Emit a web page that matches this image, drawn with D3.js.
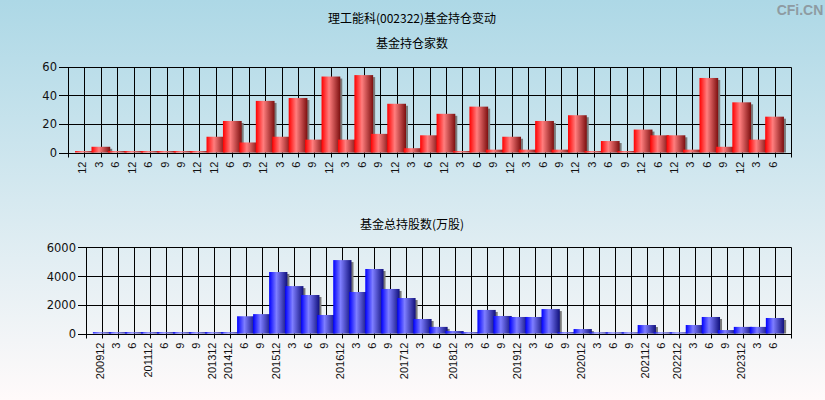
<!DOCTYPE html>
<html><head><meta charset="utf-8">
<script src="https://cdn.jsdelivr.net/npm/d3@7"></script>
<style>
html,body{margin:0;padding:0;}
body{width:825px;height:400px;overflow:hidden;}
</style>
</head><body>
<svg id="c" width="825" height="400"></svg>
<script>
// ---- data ----
const periods = ["200912","3","6","201112","6","9","9","201312","201412","6","9","201512","3","6","9","201612","3","6","9","201712","3","6","201812","3","6","9","201912","3","6","9","202012","3","6","9","202112","6","202212","3","6","9","202312","3","6"];
const fundCounts = [1,4,1,1,1,1,1,1,11,22,7,36,11,38,9,53,9,54,13,34,3,12,27,1,32,2,11,2,22,2,26,1,8,1,16,12,12,2,52,4,35,9,25];
const totalShares = [90,90,90,90,90,90,90,90,90,1200,1350,4280,3300,2680,1290,5110,2890,4490,3100,2470,1010,460,170,90,1640,1220,1150,1150,1700,90,310,80,80,80,590,80,80,590,1150,240,460,460,1080];
const topTicks = [0,20,40,60];
const bottomTicks = [0,2000,4000,6000];
const mainTitle = "理工能科(002322)基金持仓变动";
const topTitle = "基金持仓家数";
const bottomTitle = "基金总持股数(万股)";

const svg = d3.select("#c");
const defs = svg.append("defs");
const bg = defs.append("linearGradient").attr("id","bg").attr("x1",0).attr("y1",0).attr("x2",0).attr("y2",1);
bg.append("stop").attr("offset","0%").attr("stop-color","#add8e6");
bg.append("stop").attr("offset","100%").attr("stop-color","#fffafa");
function barGrad(id, c0, c1, c2){
  const g = defs.append("linearGradient").attr("id",id).attr("x1",0).attr("y1",0).attr("x2",1).attr("y2",0);
  g.append("stop").attr("offset","0%").attr("stop-color",c0);
  g.append("stop").attr("offset","40%").attr("stop-color",c1);
  g.append("stop").attr("offset","100%").attr("stop-color",c2);
}
barGrad("red","#ff0000","#ff7e7e","#7c0f0f");
barGrad("blue","#0000ff","#7e7eff","#10107c");

svg.append("rect").attr("width",825).attr("height",400).attr("fill","url(#bg)");

svg.append("text").attr("x",412).attr("y",23).attr("text-anchor","middle")
  .attr("font-family","'Noto Sans CJK SC',sans-serif").attr("font-size",12).attr("fill","#000").text(mainTitle);
svg.append("text").attr("x",800).attr("y",15).attr("text-anchor","middle")
  .attr("font-family","'Liberation Sans',Arial,sans-serif").attr("font-weight","bold").attr("font-size",14).attr("fill","#8e9ba2").text("CFi.CN");

function panel(opt){
  const n = opt.values.length;
  const x = d3.scaleLinear().domain([0,n+1]).range([opt.left,opt.right]);
  const y = d3.scaleLinear().domain([0,opt.max]).range([opt.bottom,opt.top]);
  const g = svg.append("g");
  const px = v => Math.round(v)+0.5;
  g.append("text").attr("x",412).attr("y",opt.titleY).attr("text-anchor","middle")
    .attr("font-family","'Noto Sans CJK SC',sans-serif").attr("font-size",12).attr("fill","#000").text(opt.title);
  // grid
  const vx = d3.range(0,n+2);
  g.selectAll(".vg").data(vx).enter().append("line")
    .attr("x1",d=>px(x(d))).attr("x2",d=>px(x(d))).attr("y1",px(y(opt.max))).attr("y2",px(y(0))+4)
    .attr("stroke","#000").attr("stroke-width",1);
  g.selectAll(".hg").data(opt.ticks).enter().append("line")
    .attr("x1",opt.left-opt.tickLen).attr("x2",px(x(n+1))).attr("y1",d=>px(y(d))).attr("y2",d=>px(y(d)))
    .attr("stroke","#000").attr("stroke-width",1);
  g.selectAll(".yl").data(opt.ticks).enter().append("text")
    .attr("x",opt.left-opt.tickLen-2).attr("y",d=>y(d)+4.5).attr("text-anchor","end")
    .attr("font-family","'DejaVu Sans',sans-serif").attr("font-size",11.5).attr("fill","#111").text(d=>d);
  // bars
  const bw = (x(1)-x(0))*1.14;
  const bars = g.selectAll(".b").data(opt.values).enter().append("g");
  bars.append("rect").attr("x",(d,i)=>x(i+1)-bw/2+2).attr("y",d=>y(d)+2)
    .attr("width",bw).attr("height",d=>Math.max(0,y(0)-y(d)-2)).attr("fill","#7a7a7a");
  bars.append("rect").attr("x",(d,i)=>x(i+1)-bw/2).attr("y",d=>y(d))
    .attr("width",bw).attr("height",d=>y(0)-y(d)).attr("fill",opt.fill);
  g.append("line").attr("x1",opt.left).attr("x2",px(x(n+1))).attr("y1",px(y(0))).attr("y2",px(y(0))).attr("stroke","#000");
  // x labels
  g.selectAll(".xl").data(opt.labels).enter().append("text")
    .attr("transform",(d,i)=>`translate(${x(i+1)+2},${y(0)+9}) rotate(-90)`)
    .attr("text-anchor","end")
    .attr("font-family","'Liberation Sans',Arial,sans-serif").attr("font-size",11).attr("fill","#111").text(d=>d);
}

panel({values:fundCounts, labels:periods.map(p=>p.length>2?p.slice(-2):p), max:60, ticks:topTicks,
  left:68, right:791, top:66.5, bottom:152.5, fill:"url(#red)", title:topTitle, titleY:48, tickLen:9});
panel({values:totalShares, labels:periods, max:6000, ticks:bottomTicks,
  left:86, right:791, top:247.3, bottom:333.5, fill:"url(#blue)", title:bottomTitle, titleY:229, tickLen:8});
</script>
</body></html>
